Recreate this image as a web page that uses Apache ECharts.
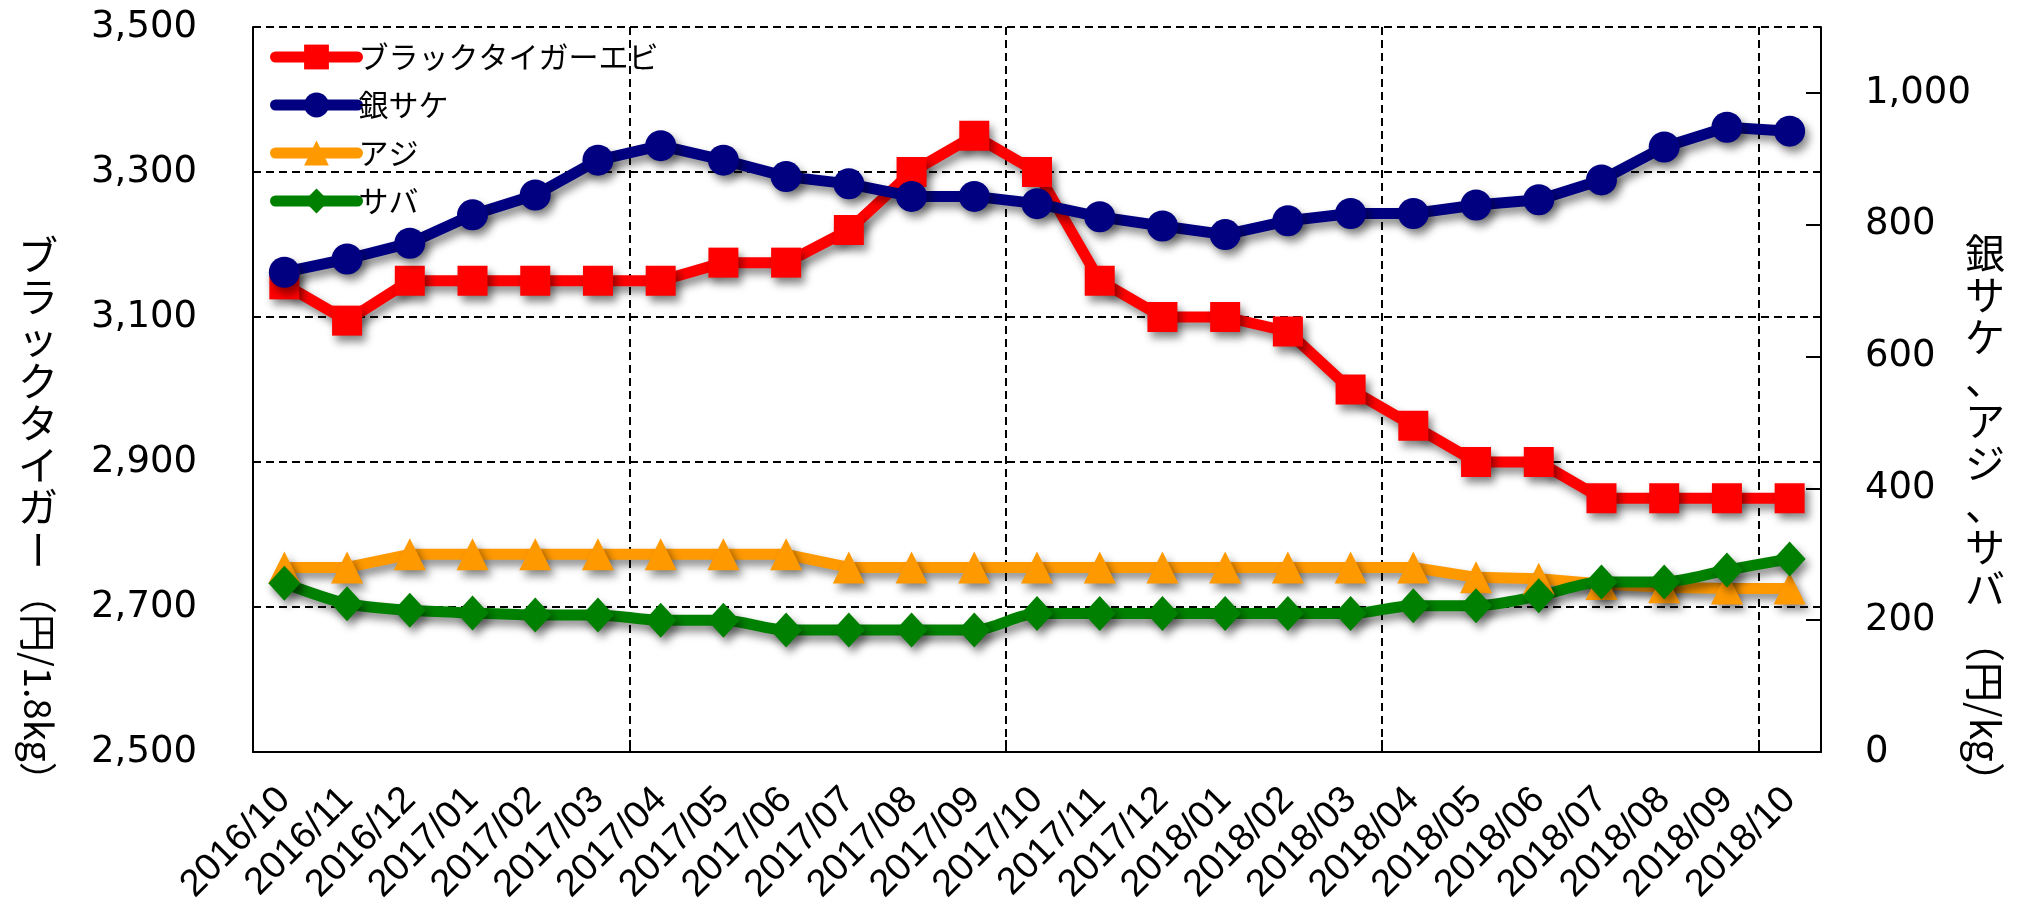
<!DOCTYPE html>
<html>
<head>
<meta charset="utf-8">
<script src="https://cdn.jsdelivr.net/npm/echarts@6/dist/echarts.min.js"></script>
<style>
html, body { margin: 0; padding: 0; background: #fff; }
#chart { width: 2024px; height: 907px; }
</style>
</head>
<body>
<div id="chart"></div>
<script>
// months on the x axis
const months = [
  '2016/10', '2016/11', '2016/12',
  '2017/01', '2017/02', '2017/03', '2017/04', '2017/05', '2017/06',
  '2017/07', '2017/08', '2017/09', '2017/10', '2017/11', '2017/12',
  '2018/01', '2018/02', '2018/03', '2018/04', '2018/05', '2018/06',
  '2018/07', '2018/08', '2018/09', '2018/10'
]

// left axis (円/1.8kg)
const blackTiger = [3145, 3095, 3150, 3150, 3150, 3150, 3150, 3175, 3175, 3220, 3300, 3350, 3300,
  3150, 3100, 3100, 3080, 3000, 2950, 2900, 2900, 2850, 2850, 2850, 2850]

// right axis (円/kg)
const ginSake = [728, 748, 772, 815, 845, 898, 920, 898, 873, 862, 843, 843, 832,
  812, 798, 785, 806, 817, 817, 830, 838, 868, 918, 948, 942]
const aji = [280, 280, 300, 300, 300, 300, 300, 300, 300, 280, 280, 280, 280,
  280, 280, 280, 280, 280, 280, 265, 263, 255, 250, 248, 248]
const saba = [256, 225, 215, 211, 208, 208, 200, 200, 185, 185, 185, 185, 210,
  210, 210, 210, 210, 210, 222, 222, 237, 258, 258, 276, 293]

const names = ['ブラックタイガーエビ', '銀サケ', 'アジ', 'サバ']
const leftRange = [2500, 3500]
const rightRange = [0, 1100]
const tickStep = 200

const jpFont = '"Noto Sans CJK JP", "DejaVu Sans", sans-serif'
const numFont = '"DejaVu Sans", sans-serif'

const shadow = {
  shadowColor: 'rgba(0,0,0,0.45)',
  shadowBlur: 8,
  shadowOffsetX: 4,
  shadowOffsetY: 6
}

function makeLine (name, data, axisIndex, color, symbol, size, smooth) {
  return {
    name: name,
    type: 'line',
    data: data,
    yAxisIndex: axisIndex,
    symbol: symbol,
    symbolSize: size,
    smooth: smooth || false,
    lineStyle: Object.assign({ color: color, width: 11 }, shadow),
    itemStyle: Object.assign({ color: color, opacity: 1 }, shadow),
    emphasis: { disabled: true }
  }
}

const chart = echarts.init(document.getElementById('chart'))

const option = {
  animation: false,
  backgroundColor: '#fff',
  grid: {
    left: 253,
    right: 203,
    top: 27,
    bottom: 155,
    outerBoundsMode: 'none'
  },
  legend: {
    orient: 'vertical',
    left: 270,
    top: 37,
    padding: 0,
    itemWidth: 82,
    itemHeight: 31,
    itemGap: 8,
    data: names,
    textStyle: {
      fontFamily: jpFont,
      fontSize: 30,
      lineHeight: 40,
      color: '#000',
      padding: [0, 0, 0, -4]
    },
    lineStyle: { width: 11, cap: 'round' },
    itemStyle: { shadowBlur: 0, shadowOffsetX: 0, shadowOffsetY: 0 }
  },
  xAxis: {
    type: 'category',
    data: months,
    boundaryGap: true,
    axisLine: { lineStyle: { color: '#000', width: 2 } },
    axisTick: { show: true, inside: true, length: 12, interval: 5, lineStyle: { color: '#000', width: 2 } },
    splitLine: {
      show: true,
      interval: 5,
      lineStyle: { color: '#000', width: 2, type: [8, 5] }
    },
    axisLabel: {
      interval: 0,
      rotate: 45,
      margin: 42,
      fontFamily: '"Liberation Sans", Arial, sans-serif',
      fontSize: 38,
      color: '#000'
    }
  },
  yAxis: [
    {
      type: 'value',
      min: leftRange[0],
      max: leftRange[1],
      interval: tickStep,
      axisLine: { show: true, lineStyle: { color: '#000', width: 2 } },
      axisTick: { show: true, inside: true, length: 8, lineStyle: { color: '#000', width: 2 } },
      splitLine: { show: true, lineStyle: { color: '#000', width: 2, type: [8, 5] } },
      axisLabel: { margin: 56, fontFamily: numFont, fontSize: 37, color: '#000' }
    },
    {
      type: 'value',
      min: rightRange[0],
      max: rightRange[1],
      interval: tickStep,
      position: 'right',
      axisLine: { show: true, lineStyle: { color: '#000', width: 2 } },
      axisTick: { show: true, inside: true, length: 15, lineStyle: { color: '#000', width: 2 } },
      splitLine: { show: false },
      axisLabel: { margin: 44, showMaxLabel: false, fontFamily: numFont, fontSize: 37, color: '#000' }
    }
  ],
  graphic: [
    // left axis title: stacked kana, then the sideways part
    {
      type: 'text', x: 38, y: 234,
      style: { text: 'ブ\nラ\nッ\nク\nタ\nイ\nガ', font: '40px ' + jpFont, lineHeight: 42, align: 'center', verticalAlign: 'top', fill: '#000' }
    },
    {
      type: 'text', x: 38, y: 530, rotation: -Math.PI / 2,
      style: { text: 'ー', font: '40px ' + jpFont, align: 'left', verticalAlign: 'middle', fill: '#000' }
    },
    {
      type: 'text', x: 38, y: 576, rotation: -Math.PI / 2,
      style: { text: '（円/1.8kg）', font: '38px ' + jpFont, align: 'left', verticalAlign: 'middle', fill: '#000' }
    },
    // right axis title
    {
      type: 'text', x: 1985, y: 232,
      style: { text: '銀\nサ\nケ\n、\nア\nジ\n、\nサ\nバ', font: '40px ' + jpFont, lineHeight: 42, align: 'center', verticalAlign: 'top', fill: '#000' }
    },
    {
      type: 'text', x: 1985, y: 622, rotation: -Math.PI / 2,
      style: { text: '（円/kg）', font: '40px ' + jpFont, align: 'left', verticalAlign: 'middle', fill: '#000' }
    }
  ],
  series: [
    makeLine(names[0], blackTiger, 0, '#FF0000', 'rect', 30),
    makeLine(names[1], ginSake, 1, '#000080', 'circle', 31),
    makeLine(names[2], aji, 1, '#FF9900', 'triangle', 32),
    makeLine(names[3], saba, 1, '#008000', 'diamond', [32, 35], 0.3)
  ]
}

chart.setOption(option)
</script>
</body>
</html>
